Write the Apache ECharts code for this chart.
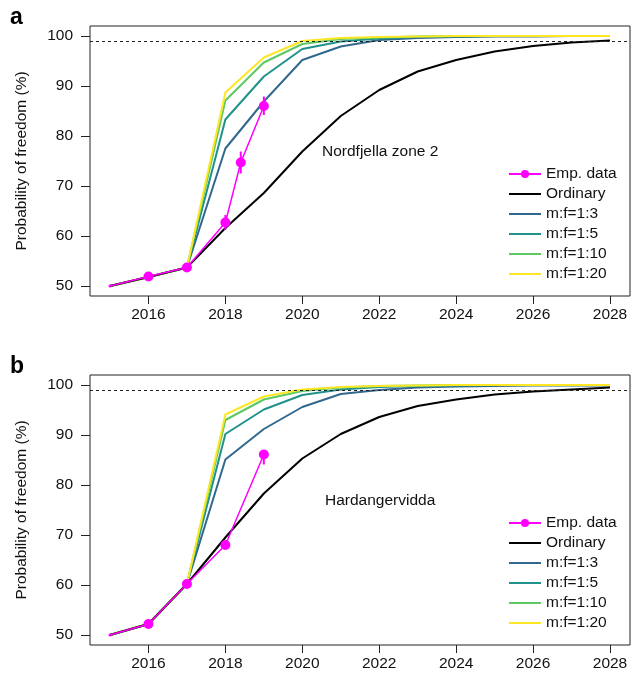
<!DOCTYPE html>
<html>
<head>
<meta charset="utf-8">
<script src="https://cdn.jsdelivr.net/npm/echarts@6/dist/echarts.min.js"></script>
<style>
  html, body { margin: 0; padding: 0; background: #fff; }
  #chart { width: 632px; height: 676px; }
</style>
</head>
<body>
<div id="chart"></div>
<script>
// years modelled
const years = [2015, 2016, 2017, 2018, 2019, 2020, 2021, 2022, 2023, 2024, 2025, 2026, 2027, 2028];
const xTicks = [2016, 2018, 2020, 2022, 2024, 2026, 2028];
const yTicks = [50, 60, 70, 80, 90, 100];

// panel a - Nordfjella zone 2
const ordA  = [50, 51.8, 53.7, 61.6, 68.6, 76.9, 84.0, 89.2, 92.9, 95.2, 96.9, 98.0, 98.7, 99.1];
const mf3A  = [50, 51.8, 53.7, 77.5, 86.9, 95.2, 97.9, 99.2, 99.6, 99.8, 99.9, 99.9, 100, 100];
const mf5A  = [50, 51.8, 53.7, 83.3, 91.9, 97.4, 98.9, 99.5, 99.8, 99.9, 100, 100, 100, 100];
const mf10A = [50, 51.8, 53.7, 87.1, 94.7, 98.4, 99.4, 99.7, 99.9, 100, 100, 100, 100, 100];
const mf20A = [50, 51.8, 53.7, 88.7, 95.7, 99.0, 99.6, 99.8, 99.9, 100, 100, 100, 100, 100];
const empXA  = [2015, 2016, 2017, 2018, 2018.4, 2019];
const empA   = [50, 51.9, 53.7, 62.7, 74.7, 86.0];
const empLoA = [50, 51.3, 52.8, 61.2, 72.5, 84.2];
const empHiA = [50, 52.5, 54.6, 64.2, 76.9, 87.9];

// panel b - Hardangervidda
const ordB  = [50, 52.2, 60.2, 69.5, 78.3, 85.3, 90.2, 93.6, 95.8, 97.1, 98.1, 98.7, 99.1, 99.5];
const mf3B  = [50, 52.2, 60.2, 85.1, 91.2, 95.6, 98.2, 99.0, 99.5, 99.7, 99.8, 99.9, 99.9, 99.9];
const mf5B  = [50, 52.2, 60.2, 90.2, 95.1, 98.0, 99.1, 99.6, 99.8, 99.9, 100, 100, 100, 100];
const mf10B = [50, 52.2, 60.2, 93.0, 97.1, 98.8, 99.5, 99.8, 99.9, 100, 100, 100, 100, 100];
const mf20B = [50, 52.2, 60.2, 94.1, 97.7, 99.1, 99.6, 99.8, 99.9, 100, 100, 100, 100, 100];
const empXB  = [2015, 2016, 2017, 2018, 2019];
const empB   = [50, 52.2, 60.2, 68.0, 86.1];
const empLoB = [50, 52.2, 60.2, 68.0, 84.1];
const empHiB = [50, 52.2, 60.2, 68.0, 86.6];

const threshold = 99;

const FONT = '"Liberation Sans", Arial, Helvetica, sans-serif';
const MAGENTA = '#ff00ff';
const names = ['Emp. data', 'Ordinary', 'm:f=1:3', 'm:f=1:5', 'm:f=1:10', 'm:f=1:20'];
const colors = { 'Ordinary': '#000000', 'm:f=1:3': '#31688e', 'm:f=1:5': '#21918c', 'm:f=1:10': '#5ec962', 'm:f=1:20': '#fde725' };

const chart = echarts.init(document.getElementById('chart'), null, { renderer: 'canvas' });

function pairs(xs, ys) {
  return xs.map((x, i) => [x, ys[i]]);
}

function xAxisFor(idx) {
  return {
    type: 'value', gridIndex: idx, min: 2014.48, max: 2028.52,
    axisLine: { show: false },
    splitLine: { show: false },
    axisTick: { show: true, length: 8, lineStyle: { color: '#222' }, customValues: xTicks },
    axisLabel: { customValues: xTicks, formatter: v => String(v), color: '#111', fontSize: 15.5, fontFamily: FONT, margin: 11 }
  };
}

function yAxisFor(idx) {
  return {
    type: 'value', gridIndex: idx, min: 48, max: 102,
    name: 'Probability of freedom (%)', nameLocation: 'middle', nameGap: 60,
    nameTextStyle: { fontSize: 15.5, fontFamily: FONT, color: '#111' },
    axisLine: { show: false },
    splitLine: { show: false },
    axisTick: { show: true, length: 9, lineStyle: { color: '#222' }, customValues: yTicks },
    axisLabel: { customValues: yTicks, color: '#111', fontSize: 15.5, fontFamily: FONT, margin: 17 }
  };
}

function modelLine(name, idx, ys, withThreshold) {
  const s = {
    name: name, type: 'line', xAxisIndex: idx, yAxisIndex: idx,
    data: pairs(years, ys), symbol: 'none', silent: true,
    lineStyle: { color: colors[name], width: 2 },
    itemStyle: { color: colors[name] },
    z: name === 'Ordinary' ? 4 : 3
  };
  if (withThreshold) {
    s.markLine = {
      silent: true, symbol: ['none', 'none'], label: { show: false },
      lineStyle: { color: '#222', width: 1, type: [3, 3] },
      data: [{ yAxis: threshold }]
    };
  }
  return s;
}

function empSeries(idx, xs, ys, lo, hi) {
  return [
    {
      name: 'Emp. data', type: 'line', xAxisIndex: idx, yAxisIndex: idx,
      data: pairs(xs, ys), symbol: 'circle',
      symbolSize: (v, p) => (p.dataIndex === 0 ? 3 : 10),
      lineStyle: { color: MAGENTA, width: 1.5 },
      itemStyle: { color: MAGENTA },
      z: 5
    },
    {
      name: 'Emp. data', type: 'custom', xAxisIndex: idx, yAxisIndex: idx,
      data: xs.map((x, i) => [x, lo[i], hi[i]]),
      encode: { x: 0, y: [1, 2] },
      renderItem: (params, api) => {
        const a = api.coord([api.value(0), api.value(1)]);
        const b = api.coord([api.value(0), api.value(2)]);
        return { type: 'line', shape: { x1: a[0], y1: a[1], x2: b[0], y2: b[1] }, style: { stroke: MAGENTA, lineWidth: 2 } };
      },
      z: 5, silent: true
    }
  ];
}

// legend: model lines show only a line, no marker
function legendFor(top) {
  return {
    orient: 'vertical', left: 503, top: top,
    data: names.map(n => (n === 'Emp. data' ? { name: n } : { name: n, itemStyle: { opacity: 0 } })),
    itemWidth: 32, itemHeight: 10, itemGap: 4,
    selectedMode: false,
    textStyle: { fontSize: 15.5, fontFamily: FONT, color: '#111', lineHeight: 10 }
  };
}

const option = {
  animation: false,
  backgroundColor: '#fff',
  grid: [
    { left: 90, top: 26, width: 540, height: 270, show: true, borderColor: '#222', borderWidth: 1, backgroundColor: 'transparent' },
    { left: 90, top: 375, width: 540, height: 270, show: true, borderColor: '#222', borderWidth: 1, backgroundColor: 'transparent' }
  ],
  xAxis: [xAxisFor(0), xAxisFor(1)],
  yAxis: [yAxisFor(0), yAxisFor(1)],
  legend: [legendFor(161), legendFor(510)],
  graphic: [
    { type: 'text', left: 10, top: 6, style: { text: 'a', font: 'bold 23px ' + FONT, fill: '#000' } },
    { type: 'text', left: 10, top: 355, style: { text: 'b', font: 'bold 23px ' + FONT, fill: '#000' } },
    { type: 'text', left: 322, top: 144, style: { text: 'Nordfjella zone 2', font: '15.5px ' + FONT, fill: '#111' } },
    { type: 'text', left: 325, top: 493, style: { text: 'Hardangervidda', font: '15.5px ' + FONT, fill: '#111' } }
  ],
  series: [
    modelLine('m:f=1:3', 0, mf3A, false),
    modelLine('m:f=1:5', 0, mf5A, false),
    modelLine('m:f=1:10', 0, mf10A, false),
    modelLine('m:f=1:20', 0, mf20A, false),
    modelLine('Ordinary', 0, ordA, true),
    ...empSeries(0, empXA, empA, empLoA, empHiA),
    modelLine('m:f=1:3', 1, mf3B, false),
    modelLine('m:f=1:5', 1, mf5B, false),
    modelLine('m:f=1:10', 1, mf10B, false),
    modelLine('m:f=1:20', 1, mf20B, false),
    modelLine('Ordinary', 1, ordB, true),
    ...empSeries(1, empXB, empB, empLoB, empHiB)
  ]
};

chart.setOption(option);
</script>
</body>
</html>
